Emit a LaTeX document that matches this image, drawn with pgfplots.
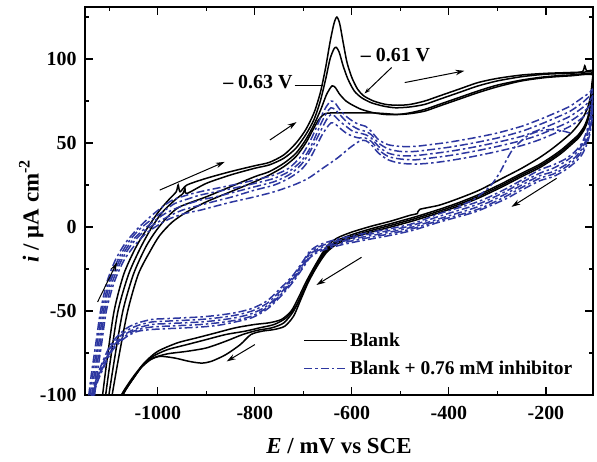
\documentclass[border=0pt]{standalone}
\usepackage{pgfplots}
\pgfplotsset{compat=1.18}
\usepackage{fontspec}
\setmainfont{Liberation Serif}
\usetikzlibrary{arrows.meta}
\definecolor{cvblue}{RGB}{45,55,160}
\begin{document}
\begin{tikzpicture}
\begin{axis}[name=ax,
  scale only axis, width=508bp, height=388bp,
  xmin=-1150, xmax=-103, ymin=-100, ymax=131,
  axis line style={line width=1.5bp},
  tick style={line width=1.2bp, black},
  major tick length=8bp, minor tick length=4.5bp,
  tick align=inside,
  xtick={-1000,-800,-600,-400,-200},
  xticklabels={-1000,-800,-600,-400,-200},
  minor xtick={-1100,-900,-700,-500,-300},
  ytick={-100,-50,0,50,100},
  yticklabels={-100,-50,0,50,100},
  minor ytick={-75,-25,25,75,125},
  ticklabel style={font=\fontsize{20}{22}\selectfont\bfseries},
  xticklabel style={yshift=-8bp},
  yticklabel style={xshift=-5bp},
  xlabel={\textbf{\textit{E}} / mV vs SCE},
  ylabel={\textbf{\textit{i}} / μA cm\textsuperscript{-2}},
  label style={font=\fontsize{23}{25}\selectfont\bfseries},
  xlabel style={at={(axis description cs:0.5,-0.15)}, anchor=base},
  ylabel style={at={(axis description cs:-0.106,0.474)}, anchor=center},
  legend style={draw=none, fill=none, at={(0.43,0.165)}, anchor=north west,
    font=\fontsize{19.5}{21}\selectfont\bfseries, row sep=9bp,
    legend cell align=left, inner sep=0pt},
  legend image code/.code={\draw[#1] (0bp,0bp) -- (43bp,0bp);},
  every axis plot/.append style={smooth, tension=0.45},
]
\addlegendimage{draw=black, line width=1.5bp}
\addlegendentry{Blank}
\addlegendimage{draw=cvblue, line width=1.5bp, dash pattern=on 8bp off 3bp on 2.5bp off 3bp}
\addlegendentry{Blank + 0.76 mM inhibitor}

% ---------- Blank cycles ----------
\pgfplotsset{bk/.style={black, line width=1.5bp, forget plot}}
\addplot[bk] coordinates {
(-1118,-110)(-1105,-80)(-1090,-50)(-1070,-28)(-1045,-12)(-1020,0)(-996,10)(-975,17)(-962,21)(-958,25)(-954,21)(-940,25)(-900,29)(-850,33)(-800,36.5)(-770,38.5)(-740,43)(-715,50)(-695,58)(-678,68)(-665,80)(-654,95)(-645,110)(-637,121)(-631,125)(-625,121)(-618,110)(-610,98)(-600,89)(-588,82)(-575,78)(-555,75)(-530,73)(-505,72.5)(-480,73)(-450,75)(-420,78)(-380,82)(-340,86)(-300,88.5)(-250,90.5)(-200,91.5)(-150,92)(-125,92.5)(-120,96)(-116,93)(-103,93)
(-105,86)(-108,78)(-114,71)(-122,66)(-133,61)(-148,56)(-168,51)(-190,46)(-215,41)(-250,35)(-290,29)(-337,22)(-380,17)(-420,13)(-460,10.5)(-465,8)(-480,7)(-520,3.5)(-560,0.5)(-600,-3)(-630,-6.5)(-650,-11)(-662,-16)(-668,-19)(-680,-25)(-695,-33)(-710,-42)(-725,-50)(-745,-55)(-770,-57)(-800,-58)(-840,-60)(-880,-63)(-920,-66)(-960,-69)(-1000,-74)(-1025,-80)(-1045,-87)(-1060,-93)(-1075,-100)(-1085,-108)
};
\addplot[bk] coordinates {
(-1112,-110)(-1098,-80)(-1082,-50)(-1060,-28)(-1035,-12)(-1012,0)(-990,9)(-965,16)(-948,20)(-944,23)(-940,20)(-900,26)(-850,31)(-800,35)(-770,37)(-740,41)(-715,47)(-695,55)(-678,64)(-665,75)(-654,88)(-645,100)(-637,106)(-632,107)(-626,104)(-618,96)(-608,88)(-595,81)(-580,77)(-560,74)(-535,72)(-510,71)(-480,71.5)(-450,73)(-420,76)(-380,80)(-340,84)(-300,87)(-250,89.5)(-200,91)(-150,91.5)(-103,92)
(-105,83)(-108,74)(-113,66)(-121,60)(-133,55)(-148,51)(-168,46)(-190,41.5)(-215,37)(-250,32)(-290,26)(-337,19.5)(-380,14.5)(-420,10.5)(-470,6)(-520,2)(-560,-1)(-600,-4.5)(-630,-8)(-650,-12.5)(-662,-17)(-670,-21)(-685,-29)(-700,-38)(-715,-47)(-735,-54)(-760,-58)(-790,-60)(-820,-62)(-860,-64)(-900,-67)(-940,-70)(-980,-73)(-1010,-77)(-1030,-82)(-1048,-89)(-1062,-95)(-1073,-100)(-1083,-108)
};
\addplot[bk] coordinates {
(-1106,-110)(-1090,-80)(-1072,-50)(-1050,-28)(-1025,-12)(-1003,-2)(-980,6)(-955,12)(-900,18)(-850,24)(-800,30)(-770,33)(-740,38)(-715,44)(-695,52)(-678,61)(-664,70)(-652,79)(-641,84)(-634,83)(-625,79)(-612,75)(-598,72.5)(-580,70)(-555,68)(-530,67)(-505,67)(-480,68)(-450,70)(-420,73)(-380,77)(-340,81)(-300,84.5)(-250,87.5)(-200,89.5)(-150,90.5)(-103,91)
(-105,82)(-108,73)(-113,65)(-121,59)(-133,54)(-148,50)(-168,45)(-190,40.5)(-215,36)(-250,31)(-290,25)(-337,18.5)(-380,13.5)(-420,9.5)(-470,5)(-520,1)(-560,-2)(-600,-5.5)(-630,-9)(-650,-13.5)(-662,-18)(-672,-23)(-688,-31)(-703,-40)(-720,-50)(-740,-57)(-765,-60)(-795,-61.5)(-825,-64)(-860,-68)(-900,-72)(-940,-74)(-980,-75.5)(-1010,-78)(-1030,-82)(-1048,-89)(-1062,-95)(-1072,-100)(-1082,-108)
};
\addplot[bk] coordinates {
(-1100,-110)(-1082,-80)(-1062,-50)(-1040,-28)(-1015,-14)(-996,-5)(-970,3)(-940,9)(-900,15)(-850,21)(-800,27)(-770,31)(-740,36)(-715,42)(-695,50)(-680,58)(-668,64)(-655,67.5)(-630,68)(-600,68)(-560,68)(-530,67.5)(-505,67)(-480,67.5)(-450,69)(-420,72)(-380,76)(-340,80)(-300,83.5)(-250,87)(-200,89)(-150,90)(-103,90.5)
(-105,81)(-108,72)(-113,64)(-121,58)(-133,53)(-148,49)(-168,44)(-190,39.5)(-215,35)(-250,30)(-290,24)(-337,17.5)(-380,12.5)(-420,8.5)(-470,4)(-520,0)(-560,-3)(-600,-6.5)(-630,-10)(-650,-14.5)(-662,-19)(-675,-25)(-690,-33)(-705,-43)(-720,-53)(-738,-59)(-760,-61)(-785,-62)(-808,-64)(-830,-70)(-860,-76)(-890,-80)(-910,-81)(-935,-80)(-965,-78)(-995,-77)(-1015,-79)(-1035,-84)(-1050,-90)(-1062,-95)(-1072,-100)(-1082,-108)
};

% ---------- Inhibitor cycles ----------
\pgfplotsset{bl/.style={cvblue, line width=1.5bp, dash pattern=on 8bp off 3bp on 2.5bp off 3bp, forget plot}}
\addplot[bl] coordinates {
(-1146,-110)(-1138,-90)(-1128,-70)(-1118,-50)(-1105,-33)(-1088,-20)(-1068,-10)(-1045,-2)(-1020,5)(-995,11)(-970,16)(-940,19)(-913,21)(-880,23)(-846,25)(-800,28)(-760,31)(-730,35)(-705,42)(-688,50)(-675,58)(-663,66)(-652,72)(-643,75)(-635,74)(-625,70)(-612,66)(-598,63)(-585,61)(-572,60)(-560,57)(-545,52)(-525,49)(-500,48)(-470,48)(-440,49)(-400,50.5)(-350,53)(-300,56)(-250,60)(-213,64)(-180,68)(-150,72)(-125,77)(-110,80)(-103,82)
(-105,74)(-109,65)(-116,57)(-126,50)(-140,45)(-160,40.5)(-185,37)(-213,34)(-250,28)(-281,23)(-320,17.5)(-351,14)(-419,8)(-475,2)(-530,-1.5)(-578,-4)(-620,-6.5)(-646,-8.5)(-670,-11)(-687,-14.5)(-700,-20)(-722,-29)(-749,-37)(-775,-44)(-806,-48.5)(-840,-51)(-875,-52.5)(-910,-53.5)(-943,-54)(-980,-54.5)(-1012,-55)(-1040,-57)(-1060,-59.5)(-1076,-63)(-1095,-69)(-1109,-77)(-1124,-88)(-1136,-100)(-1144,-112)
};
\addplot[bl] coordinates {
(-1143,-110)(-1135,-90)(-1125,-70)(-1115,-50)(-1101,-33)(-1083,-20)(-1063,-10)(-1040,-2)(-1015,4)(-990,9)(-965,14)(-935,17)(-913,19)(-880,21)(-846,23)(-800,26)(-760,29)(-730,33)(-705,39)(-688,46)(-675,54)(-663,62)(-652,68)(-643,71)(-635,70)(-625,67)(-612,63)(-598,60)(-585,58)(-572,57)(-560,55)(-545,50)(-525,46.5)(-500,45)(-470,45)(-440,46)(-400,47.5)(-350,50)(-300,53)(-250,57)(-213,61)(-180,65)(-150,69)(-125,74)(-110,78)(-103,80)
(-105,72)(-109,63)(-116,55)(-126,48.5)(-140,43.5)(-160,39)(-185,35)(-213,32)(-250,26.5)(-281,21.5)(-320,16)(-351,12.5)(-419,6.5)(-475,1)(-530,-2.5)(-578,-5)(-620,-7.5)(-646,-9.5)(-670,-12)(-687,-15.5)(-700,-21)(-722,-30)(-749,-38.5)(-775,-45.5)(-806,-50)(-840,-52.5)(-875,-54)(-910,-55)(-943,-55.5)(-980,-56)(-1012,-56.5)(-1040,-58.5)(-1060,-61)(-1076,-64.5)(-1095,-70.5)(-1109,-78.5)(-1124,-89)(-1135,-100)(-1143,-112)
};
\addplot[bl] coordinates {
(-1140,-110)(-1132,-90)(-1122,-70)(-1112,-50)(-1098,-33)(-1079,-20)(-1058,-10)(-1035,-3)(-1010,3)(-985,8)(-955,12)(-913,16)(-880,18)(-846,20.5)(-800,24)(-760,27)(-730,31)(-705,37)(-688,44)(-675,51)(-663,58)(-652,64)(-643,67)(-635,66)(-625,63)(-612,60)(-598,57)(-585,56)(-572,55)(-560,53)(-545,48)(-525,44)(-500,42.5)(-470,42.5)(-440,43.5)(-400,45)(-350,47.5)(-300,50.5)(-250,54)(-213,58)(-180,62)(-150,66)(-125,71)(-110,75)(-103,78)
(-105,70)(-109,61)(-116,53)(-126,46.5)(-140,41.5)(-160,37)(-185,33)(-213,30.5)(-250,25)(-281,20)(-320,14.5)(-351,11)(-419,5)(-475,0)(-530,-3.5)(-578,-6)(-620,-8.5)(-646,-10.5)(-670,-13)(-687,-16.5)(-700,-22)(-722,-31)(-749,-40)(-775,-47)(-806,-51.5)(-840,-54)(-875,-55.5)(-910,-56.5)(-943,-57)(-980,-57.5)(-1012,-58)(-1040,-60)(-1060,-62.5)(-1076,-66)(-1095,-72)(-1109,-80)(-1124,-90)(-1134,-100)(-1142,-112)
};
\addplot[bl] coordinates {
(-1137,-110)(-1129,-90)(-1119,-70)(-1109,-50)(-1094,-33)(-1075,-20)(-1053,-10)(-1030,-3)(-1005,2)(-980,6)(-950,10)(-913,13)(-880,15.5)(-846,18)(-800,22)(-760,25)(-730,29)(-705,34)(-688,40)(-675,47)(-663,54)(-652,59)(-643,62)(-635,61.5)(-625,59)(-612,56)(-598,54)(-585,53)(-572,53)(-560,51)(-545,46)(-525,42)(-500,40.5)(-470,40)(-440,41)(-400,42.5)(-350,45)(-300,48)(-250,51.5)(-213,55)(-180,59)(-150,63)(-125,68)(-110,72)(-103,75)
(-105,67)(-109,58)(-116,51)(-126,45)(-140,40)(-160,35.5)(-185,31.5)(-213,29)(-250,23.5)(-281,18.5)(-320,13)(-351,9.5)(-419,4)(-475,-1)(-530,-4.5)(-578,-7)(-620,-9.5)(-646,-11.5)(-670,-14)(-687,-17.5)(-700,-23)(-722,-32)(-749,-41)(-775,-48)(-806,-53)(-840,-55.5)(-875,-57)(-910,-58)(-943,-58.5)(-980,-59)(-1012,-59.5)(-1040,-61)(-1060,-63.5)(-1076,-67)(-1095,-73)(-1109,-81)(-1124,-91)(-1133,-100)(-1141,-112)
};
\addplot[bl] coordinates {
(-1134,-110)(-1126,-90)(-1116,-70)(-1106,-50)(-1090,-33)(-1070,-20)(-1048,-11)(-1025,-4)(-1000,1)(-975,5)(-945,8)(-913,10)(-880,12.5)(-846,15)(-800,18)(-760,21)(-720,25)(-690,29)(-660,35)(-630,41)(-605,47)(-585,51)(-572,51.5)(-560,49)(-545,44)(-525,40)(-500,38)(-470,37.5)(-440,38)(-400,39.5)(-350,42)(-300,45)(-250,48.5)(-213,52)(-180,56)(-150,60)(-125,65)(-110,69)(-103,72)
(-105,64)(-109,56)(-116,49)(-126,43)(-140,38.5)(-160,34)(-185,30)(-213,27.5)(-250,22)(-281,17)(-320,12)(-351,8.5)(-419,3)(-475,-2)(-530,-5.5)(-578,-8)(-620,-10.5)(-646,-12.5)(-670,-15)(-687,-18.5)(-700,-24)(-722,-33)(-749,-42)(-775,-49)(-806,-54)(-840,-56.5)(-875,-58.5)(-910,-59.5)(-943,-60)(-980,-60.5)(-1012,-61)(-1040,-62)(-1060,-64.5)(-1076,-68)(-1095,-74)(-1109,-82)(-1124,-92)(-1132,-100)(-1140,-112)
};
\addplot[bl] coordinates {
(-150,56)(-170,57.5)(-193,58)(-215,57)(-234,55)(-252,51)(-269,46)(-283,39)(-296,32)(-316,24)(-351,16)(-385,12)
};

% ---------- annotations ----------
\node[anchor=east, font=\fontsize{20}{22}\selectfont\bfseries, inner sep=0pt] at (axis cs:-722,86.6) {– 0.63 V};
\draw[black, line width=1bp] (axis cs:-718,84.5) -- (axis cs:-660,84.5);
\node[font=\fontsize{20}{22}\selectfont\bfseries, inner sep=0pt] at (axis cs:-510,102.4) {– 0.61 V};
\draw[black, line width=1bp, -{Stealth[length=6bp,width=4bp]}] (axis cs:-518,95) -- (axis cs:-574,79.5);

\tikzset{arr/.style={black, line width=1bp, -{Stealth[length=9bp,width=5.5bp]}}}
\draw[arr] (axis cs:-1124,-44.6) -- (axis cs:-1084,-21);
\draw[arr] (axis cs:-996,22) -- (axis cs:-862,38.8);
\draw[arr] (axis cs:-769,51.8) -- (axis cs:-714,62.5);
\draw[arr] (axis cs:-491,86) -- (axis cs:-368,93);
\draw[arr] (axis cs:-178,29) -- (axis cs:-271,12);
\draw[arr] (axis cs:-580,-18) -- (axis cs:-673,-34.5);
\draw[arr] (axis cs:-800,-70) -- (axis cs:-858,-80);
\end{axis}
\path ([shift={(-85bp,-67bp)}]ax.south west) rectangle ([shift={(4bp,7bp)}]ax.north east);
\end{tikzpicture}
\end{document}
